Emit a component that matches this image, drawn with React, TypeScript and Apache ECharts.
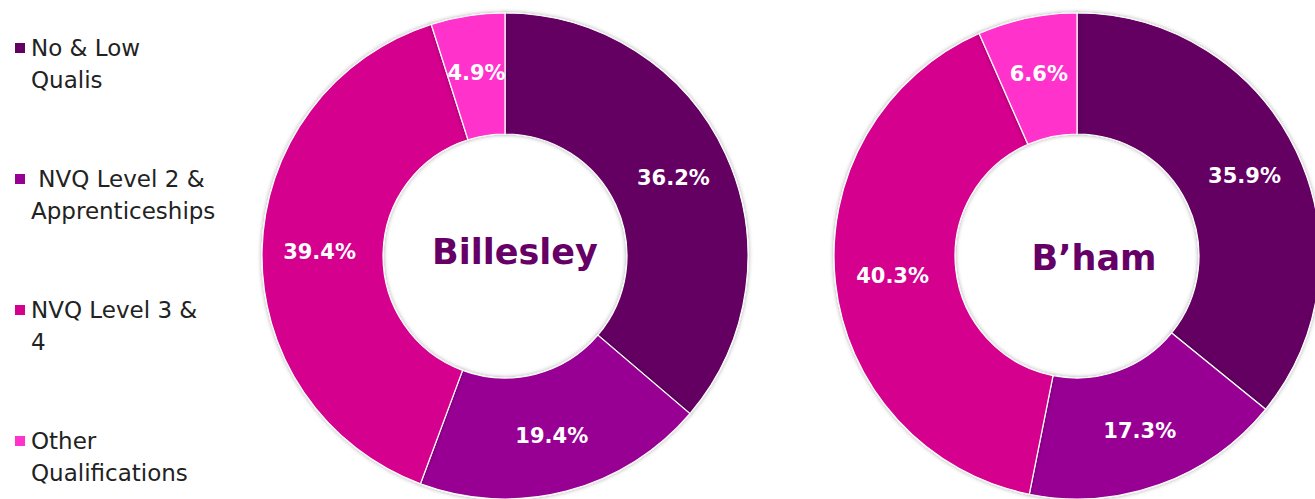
import React, { useEffect, useRef } from "react";
import * as echarts from "echarts";

const categories = [
  "No & Low Qualis",
  " NVQ Level 2 & Apprenticeships",
  "NVQ Level 3 & 4",
  "Other Qualifications",
];
const legendLabels = [
  "No & Low\nQualis",
  " NVQ Level 2 &\nApprenticeships",
  "NVQ Level 3 &\n4",
  "Other\nQualifications",
];
const billesleyValues = [36.2, 19.4, 39.4, 4.9];
const bhamValues = [35.9, 17.3, 40.3, 6.6];
const chartTitles = ["Billesley", "B\u2019ham"];
const colors = ["#640062", "#980094", "#D5008E", "#FF33CC"];

export default function App() {
  const ref = useRef<HTMLDivElement>(null);
  useEffect(() => {
    if (!ref.current) return;
    const chart = echarts.init(ref.current, null, { renderer: "svg" });
    const font = "'DejaVu Sans', Verdana, sans-serif";
    const makeSeries = (name: string, values: number[], cx: number) => ({
      type: "pie",
      name,
      center: [cx, 256],
      radius: [122, 243],
      startAngle: 90,
      clockwise: true,
      avoidLabelOverlap: false,
      itemStyle: {
        borderColor: "#ffffff",
        borderWidth: 1.2,
        shadowBlur: 4,
        shadowColor: "rgba(0,0,0,0.35)",
      },
      label: {
        show: true,
        position: "inside",
        formatter: (p: any) => p.value.toFixed(1) + "%",
        color: "#ffffff",
        fontFamily: font,
        fontWeight: "bold",
        fontSize: 21,
      },
      labelLine: { show: false },
      emphasis: { disabled: true },
      data: categories.map((c, i) => ({ name: c, value: values[i] })),
    });
    chart.setOption({
      animation: false,
      color: colors,
      legend: {
        orient: "vertical",
        left: 13,
        top: 0,
        padding: 0,
        itemWidth: 12,
        itemHeight: 12,
        itemGap: 35,
        icon: "rect",
        data: categories,
        // a leading empty line keeps the swatch level with the first text line
        formatter: (n: string) => "\n" + legendLabels[categories.indexOf(n)],
        textStyle: {
          fontFamily: font,
          fontSize: 23,
          lineHeight: 32,
          color: "#222222",
        },
        selectedMode: false,
      },
      graphic: [
        {
          type: "text",
          x: 515,
          y: 252,
          style: {
            text: chartTitles[0],
            fill: "#660066",
            font: "bold 35px 'DejaVu Sans', Verdana, sans-serif",
            align: "center",
            verticalAlign: "middle",
            textAlign: "center",
            textVerticalAlign: "middle",
          },
        },
        {
          type: "text",
          x: 1094,
          y: 258,
          style: {
            text: chartTitles[1],
            fill: "#660066",
            font: "bold 35px 'DejaVu Sans', Verdana, sans-serif",
            align: "center",
            verticalAlign: "middle",
            textAlign: "center",
            textVerticalAlign: "middle",
          },
        },
      ],
      series: [
        makeSeries("Billesley", billesleyValues, 505),
        makeSeries("B\u2019ham", bhamValues, 1077),
      ],
    });
    return () => chart.dispose();
  }, []);
  return (
    <div
      ref={ref}
      style={{ position: "fixed", left: 0, top: 0, width: 1315, height: 499, background: "#ffffff" }}
    />
  );
}
